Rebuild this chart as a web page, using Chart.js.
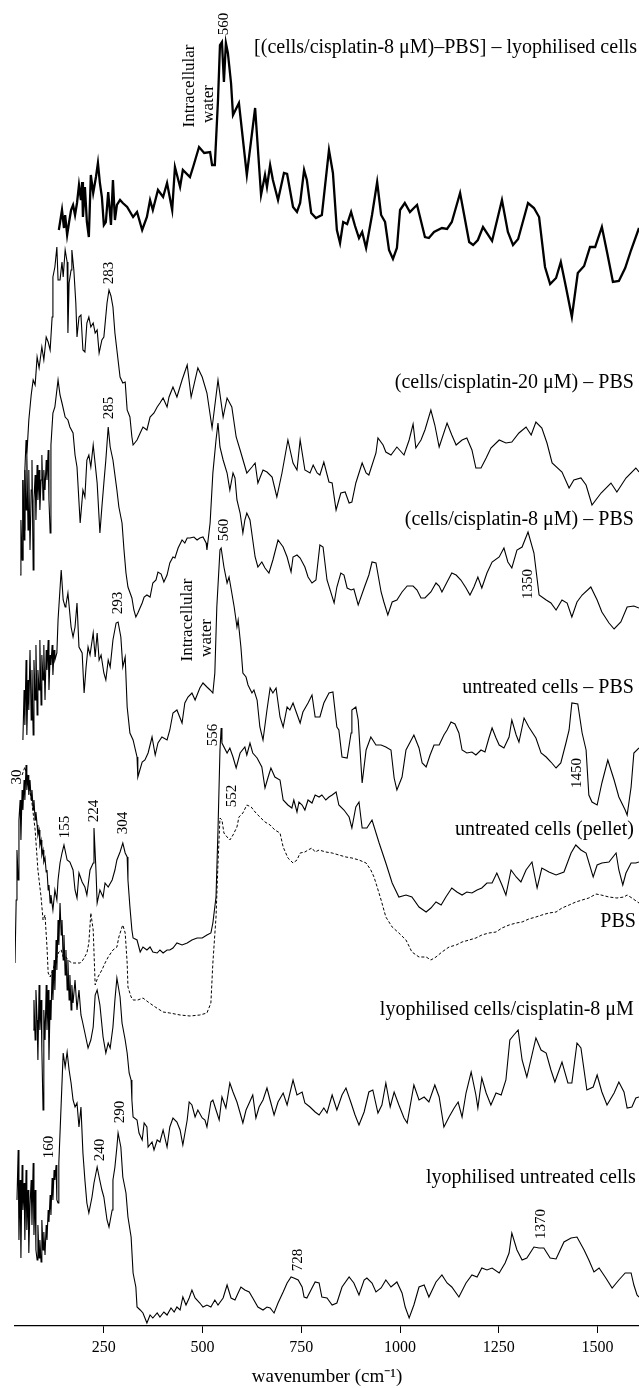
<!DOCTYPE html>
<html>
<head>
<meta charset="utf-8">
<title>Spectra</title>
<script src="https://cdn.jsdelivr.net/npm/chart.js@4.4.1/dist/chart.umd.min.js"></script>
<style>
  body { margin: 0; background: #fff; }
  canvas { display: block; }
</style>
</head>
<body>
<canvas id="spectra" width="639" height="1388"></canvas>
<script>
// wavenumber (cm-1), intensity (arbitrary, stacked)
const lyoDiff = [[136,1096],[144,1116],[149,1098],[152,1111],[157,1091],[162,1104],[167,1116],[172,1121],[177,1111],[182,1123],[187,1141],[192,1126],[195,1144],[197,1109],[202,1139],[207,1104],[212,1089],[217,1151],[223,1133],[230,1149],[235,1163],[240,1143],[245,1129],[250,1101],[255,1104],[261,1134],[268,1101],[273,1146],[278,1106],[283,1121],[291,1126],[298,1123],[309,1119],[324,1109],[334,1114],[347,1096],[359,1109],[367,1126],[374,1116],[387,1136],[400,1129],[410,1143],[423,1116],[430,1159],[443,1139],[450,1156],[468,1149],[476,1159],[491,1179],[504,1173],[519,1174],[524,1161],[531,1161],[539,1226],[544,1281],[549,1284],[554,1244],[559,1283],[564,1273],[572,1243],[577,1211],[592,1223],[612,1151],[633,1218],[648,1131],[658,1151],[663,1139],[671,1161],[678,1146],[691,1126],[706,1153],[714,1152],[729,1119],[739,1114],[747,1123],[757,1156],[764,1146],[775,1113],[787,1108],[802,1111],[820,1176],[830,1153],[840,1096],[848,1083],[856,1104],[866,1102],[876,1114],[886,1100],[896,1088],[904,1094],[914,1078],[929,1111],[942,1144],[952,1111],[962,1104],[972,1076],[982,1067],[992,1078],[1000,1116],[1012,1123],[1025,1114],[1035,1118],[1043,1121],[1063,1089],[1073,1088],[1086,1094],[1106,1098],[1119,1097],[1131,1104],[1152,1133],[1175,1084],[1185,1081],[1197,1086],[1210,1099],[1233,1085],[1258,1126],[1273,1094],[1286,1081],[1299,1087],[1324,1123],[1339,1118],[1352,1109],[1367,1059],[1380,1042],[1395,1048],[1407,1064],[1420,1039],[1435,1009],[1450,1053],[1466,1060],[1481,1079],[1494,1079],[1511,1099],[1524,1074],[1539,1044],[1554,1045],[1570,1058],[1585,1076],[1605,1098]];

const cis20 = [[38,751],[40,806],[43,766],[45,846],[48,796],[50,856],[53,886],[55,871],[60,906],[66,931],[71,946],[76,941],[81,969],[86,958],[93,979],[98,966],[104,989],[109,984],[114,976],[119,1009],[121,1049],[126,1059],[131,1079],[134,1046],[139,1046],[144,1064],[147,1049],[152,1076],[157,1064],[159,993],[162,1043],[167,1056],[169,1076],[174,1056],[179,1023],[182,989],[187,1009],[192,1011],[197,976],[202,974],[207,1003],[212,1009],[217,999],[223,1003],[228,993],[233,996],[238,973],[245,986],[250,989],[258,1023],[263,1036],[268,1030],[273,1019],[278,993],[283,976],[291,949],[298,943],[304,944],[309,916],[316,909],[321,889],[324,881],[334,886],[342,893],[349,899],[359,896],[367,909],[377,913],[385,919],[392,923],[400,928],[410,919],[415,929],[425,939],[435,929],[448,946],[461,961],[471,929],[488,958],[499,949],[511,933],[524,898],[539,946],[552,909],[562,928],[574,919],[585,889],[595,876],[612,853],[625,859],[633,863],[640,843],[653,856],[663,854],[676,849],[688,829],[701,853],[716,886],[729,863],[739,856],[747,886],[759,856],[772,853],[780,861],[790,853],[797,851],[807,864],[820,844],[828,843],[838,816],[850,833],[861,834],[871,823],[878,824],[888,843],[904,863],[914,853],[921,851],[939,873],[944,888],[957,881],[964,874],[977,871],[992,879],[1010,871],[1023,886],[1033,902],[1040,878],[1048,883],[1053,886],[1063,896],[1078,916],[1088,901],[1099,879],[1119,903],[1131,891],[1142,881],[1157,886],[1169,888],[1182,876],[1192,858],[1205,858],[1218,868],[1230,878],[1251,886],[1268,883],[1283,884],[1301,893],[1319,899],[1332,891],[1344,904],[1359,898],[1372,883],[1385,863],[1410,854],[1428,838],[1440,846],[1458,848],[1471,841],[1486,821],[1509,833],[1534,843],[1549,834],[1572,848],[1597,858],[1605,854]];

const cis8 = [[43,766],[45,846],[48,786],[50,856],[53,816],[55,871],[58,796],[60,856],[63,776],[66,836],[68,866],[71,756],[73,826],[76,851],[78,806],[81,861],[83,826],[86,856],[88,816],[91,846],[93,871],[96,826],[98,856],[101,836],[104,866],[106,846],[109,876],[111,826],[114,793],[116,881],[121,913],[126,919],[134,946],[139,931],[144,923],[152,909],[159,906],[164,899],[172,893],[177,871],[182,859],[190,803],[197,836],[202,829],[207,866],[212,871],[217,859],[223,881],[233,843],[240,793],[245,819],[250,843],[255,866],[261,899],[266,879],[273,866],[283,836],[288,819],[296,803],[301,776],[306,753],[311,739],[321,728],[326,716],[331,709],[336,713],[347,723],[352,729],[359,731],[367,729],[374,743],[382,746],[387,754],[395,752],[402,744],[410,751],[417,763],[425,769],[430,768],[438,778],[448,786],[455,783],[461,788],[468,788],[478,789],[486,786],[493,788],[501,789],[509,783],[511,776],[519,803],[526,853],[534,886],[539,903],[544,879],[552,866],[562,853],[569,836],[577,853],[582,848],[587,826],[595,813],[602,793],[607,806],[612,813],[620,806],[627,786],[633,769],[640,759],[650,764],[658,758],[668,753],[678,766],[691,786],[704,779],[714,769],[724,754],[729,769],[739,771],[747,768],[759,759],[767,749],[777,743],[787,746],[797,781],[805,779],[815,746],[833,723],[840,739],[850,753],[858,751],[866,738],[876,736],[883,737],[894,721],[909,738],[921,751],[929,764],[939,763],[952,734],[959,724],[969,711],[980,724],[992,726],[1005,734],[1018,740],[1033,740],[1043,736],[1053,728],[1063,728],[1078,734],[1091,743],[1099,740],[1106,734],[1119,744],[1131,753],[1142,751],[1154,746],[1167,738],[1177,731],[1187,739],[1197,749],[1207,738],[1220,753],[1233,764],[1251,769],[1263,778],[1273,764],[1283,758],[1296,776],[1309,779],[1324,794],[1339,773],[1352,731],[1370,726],[1382,723],[1395,716],[1410,726],[1423,723],[1435,709],[1448,724],[1461,731],[1483,739],[1499,726],[1511,714],[1529,703],[1542,697],[1559,704],[1575,719],[1592,720],[1605,718]];

const untreatedPbs = [[45,586],[48,636],[50,601],[53,666],[55,591],[58,646],[60,616],[63,676],[66,606],[68,656],[71,591],[73,666],[76,626],[78,681],[81,611],[83,656],[86,636],[88,686],[91,621],[93,671],[96,646],[98,681],[101,626],[104,676],[106,656],[109,686],[111,636],[114,671],[116,661],[119,681],[121,651],[124,676],[126,666],[131,673],[134,706],[142,756],[147,726],[152,719],[154,721],[159,733],[167,699],[172,689],[177,699],[182,723],[187,679],[195,673],[200,633],[205,659],[210,679],[215,671],[223,693],[228,669],[233,693],[238,666],[243,671],[250,653],[255,646],[261,666],[266,659],[273,686],[281,703],[286,704],[293,689],[298,659],[304,669],[309,619],[316,593],[324,586],[334,569],[336,549],[347,564],[354,566],[362,573],[372,589],[380,571],[387,583],[397,589],[410,586],[417,596],[425,613],[435,616],[448,603],[455,623],[463,629],[473,633],[481,626],[493,638],[501,643],[511,639],[519,636],[526,633],[531,653],[536,719],[544,776],[547,778],[554,759],[562,743],[567,749],[574,733],[580,719],[587,699],[590,706],[597,679],[602,653],[610,649],[615,641],[625,633],[630,636],[638,626],[645,599],[653,586],[663,616],[671,638],[678,633],[686,638],[696,609],[704,599],[714,619],[721,616],[729,623],[737,614],[747,603],[754,614],[767,623],[777,631],[785,609],[797,609],[807,623],[820,633],[830,634],[840,599],[845,596],[853,569],[866,568],[876,593],[878,616],[888,619],[894,606],[904,543],[914,576],[926,589],[939,581],[952,581],[964,579],[977,576],[985,548],[992,536],[1005,549],[1015,576],[1035,591],[1048,578],[1056,563],[1066,559],[1076,571],[1086,581],[1099,581],[1111,591],[1119,596],[1129,604],[1139,602],[1149,593],[1157,576],[1169,573],[1182,574],[1192,571],[1205,576],[1215,574],[1225,588],[1233,598],[1243,588],[1251,581],[1263,578],[1276,589],[1283,606],[1294,591],[1301,584],[1314,608],[1326,599],[1344,588],[1357,573],[1370,569],[1382,564],[1395,558],[1407,563],[1420,583],[1428,596],[1435,623],[1450,622],[1461,593],[1471,576],[1478,531],[1486,524],[1499,521],[1511,543],[1526,566],[1542,546],[1554,529],[1570,516],[1575,511],[1585,539],[1592,573],[1605,578]];

const pellet = [[25,363],[28,426],[30,476],[33,446],[35,506],[38,526],[40,486],[43,536],[45,516],[48,546],[50,526],[53,561],[55,536],[58,551],[60,531],[63,546],[66,526],[68,536],[71,516],[73,526],[76,506],[78,514],[81,501],[83,491],[86,496],[88,481],[91,486],[93,471],[96,476],[98,464],[101,468],[104,454],[106,456],[109,436],[111,441],[114,423],[116,431],[121,416],[126,436],[131,426],[134,446],[139,463],[144,473],[149,481],[157,466],[164,464],[172,456],[177,436],[182,428],[187,453],[195,444],[202,439],[207,431],[215,456],[223,463],[225,498],[230,456],[233,423],[240,436],[248,429],[253,443],[261,439],[271,446],[278,456],[283,466],[291,474],[298,483],[304,473],[309,469],[311,446],[316,419],[321,396],[324,388],[334,386],[342,374],[349,379],[359,376],[367,379],[374,374],[385,373],[392,376],[400,373],[410,376],[417,376],[425,378],[435,383],[448,381],[461,383],[473,386],[486,388],[499,388],[511,391],[521,393],[526,403],[534,429],[539,496],[544,576],[547,598],[549,583],[562,573],[569,578],[577,569],[585,558],[595,573],[607,579],[612,571],[620,583],[627,573],[638,568],[650,559],[658,538],[666,549],[673,558],[683,549],[696,546],[704,526],[716,521],[726,518],[731,526],[739,514],[744,524],[752,521],[759,516],[767,526],[777,523],[785,531],[795,529],[802,531],[812,526],[820,529],[828,531],[838,534],[845,521],[858,516],[871,509],[878,498],[888,519],[896,524],[904,498],[916,498],[929,506],[947,483],[964,463],[980,443],[997,429],[1015,431],[1030,429],[1048,419],[1066,414],[1078,418],[1091,424],[1104,421],[1116,429],[1131,438],[1144,434],[1157,431],[1169,434],[1182,433],[1195,436],[1207,438],[1220,443],[1233,443],[1245,453],[1258,441],[1268,431],[1281,456],[1294,449],[1306,444],[1319,456],[1334,464],[1347,438],[1359,458],[1377,454],[1395,451],[1415,454],[1433,473],[1445,481],[1458,476],[1471,473],[1489,449],[1499,461],[1511,463],[1529,464],[1547,473],[1554,456],[1564,441],[1572,453],[1585,463],[1597,463],[1605,464]];

const pbs = [[43,551],[50,559],[58,546],[68,523],[76,496],[83,456],[91,429],[96,406],[101,411],[106,379],[109,353],[114,349],[121,356],[126,363],[131,369],[136,374],[142,376],[147,369],[154,369],[159,366],[169,363],[177,363],[190,363],[197,366],[207,373],[212,383],[217,413],[223,396],[228,341],[235,349],[245,356],[253,363],[261,369],[273,376],[283,379],[288,389],[296,399],[298,401],[304,393],[309,363],[311,339],[319,329],[324,326],[336,326],[349,328],[362,324],[380,319],[400,314],[417,313],[443,311],[468,310],[493,311],[511,313],[521,323],[526,363],[534,409],[539,463],[544,508],[549,506],[554,493],[562,489],[569,486],[577,491],[587,499],[592,509],[602,513],[612,521],[623,519],[633,514],[645,509],[658,504],[671,501],[683,496],[696,493],[704,479],[716,468],[729,463],[739,466],[747,473],[759,474],[767,476],[777,478],[785,474],[795,476],[812,474],[828,473],[845,471],[863,469],[878,468],[896,466],[914,463],[926,456],[934,449],[942,439],[952,426],[964,409],[980,399],[997,393],[1015,386],[1030,374],[1048,369],[1066,369],[1078,366],[1091,369],[1106,374],[1124,379],[1142,381],[1157,384],[1175,386],[1192,388],[1207,391],[1225,393],[1243,394],[1258,398],[1276,401],[1294,403],[1309,404],[1326,407],[1344,409],[1359,411],[1377,413],[1395,414],[1410,418],[1428,421],[1445,424],[1461,426],[1478,428],[1496,432],[1509,431],[1529,429],[1549,428],[1567,429],[1575,431],[1587,428],[1605,423]];

const lyoCis8 = [[71,296],[73,326],[76,286],[78,336],[81,306],[83,266],[86,341],[88,296],[91,326],[93,276],[96,216],[98,316],[101,286],[104,341],[106,296],[109,336],[111,266],[114,326],[116,306],[119,356],[121,326],[124,366],[126,336],[129,386],[131,356],[134,406],[136,381],[139,423],[142,391],[144,406],[147,366],[149,391],[152,351],[154,376],[157,336],[159,366],[162,326],[164,351],[167,316],[169,341],[172,323],[177,346],[182,316],[187,336],[192,311],[195,306],[202,293],[210,278],[217,286],[223,299],[228,331],[233,336],[240,321],[248,289],[255,273],[261,283],[266,278],[273,299],[278,326],[283,348],[291,329],[296,303],[304,286],[309,273],[314,253],[319,246],[321,226],[324,209],[334,206],[339,193],[347,186],[352,203],[359,199],[362,179],[372,184],[377,176],[385,186],[392,184],[400,196],[410,179],[417,199],[425,208],[435,204],[443,196],[450,181],[461,206],[466,224],[473,221],[481,209],[488,216],[499,208],[506,206],[511,199],[521,224],[526,226],[534,216],[542,206],[549,229],[559,218],[569,243],[577,234],[587,224],[595,213],[602,203],[610,216],[618,223],[627,231],[635,208],[643,219],[653,226],[663,238],[673,223],[681,211],[691,224],[704,233],[714,221],[729,246],[739,231],[752,234],[759,223],[772,219],[785,214],[795,211],[807,218],[815,213],[828,231],[840,216],[853,231],[863,238],[876,223],[886,211],[896,201],[909,214],[921,234],[931,236],[944,213],[954,221],[964,243],[975,219],[985,234],[997,221],[1010,208],[1018,203],[1035,241],[1048,226],[1061,229],[1073,224],[1088,241],[1099,229],[1111,199],[1124,209],[1137,218],[1147,224],[1157,209],[1167,233],[1180,254],[1192,231],[1197,218],[1207,248],[1218,233],[1230,221],[1243,233],[1256,231],[1268,246],[1278,286],[1288,291],[1299,296],[1309,266],[1321,249],[1344,288],[1357,276],[1370,273],[1382,256],[1392,244],[1410,264],[1425,243],[1435,243],[1448,283],[1458,278],[1473,236],[1489,239],[1499,251],[1511,234],[1524,221],[1542,233],[1554,244],[1567,234],[1575,218],[1587,219],[1597,228],[1605,229]];

const lyoUntreated = [[30,126],[33,176],[35,86],[38,146],[40,68],[43,161],[45,116],[48,143],[50,86],[53,156],[55,96],[58,136],[60,73],[63,121],[66,146],[68,101],[71,163],[73,91],[76,136],[78,76],[81,66],[83,101],[86,68],[88,86],[91,64],[93,106],[96,76],[98,94],[101,71],[104,101],[106,86],[109,116],[111,104],[114,131],[116,111],[119,148],[121,126],[124,156],[126,146],[129,161],[131,126],[134,123],[136,163],[142,223],[147,273],[152,259],[157,274],[162,256],[167,243],[172,226],[177,219],[182,223],[187,199],[192,219],[197,173],[202,146],[207,123],[212,113],[220,129],[225,143],[233,159],[238,149],[245,136],[250,129],[258,106],[263,99],[271,116],[273,146],[278,159],[283,179],[286,193],[293,179],[298,149],[306,133],[311,109],[319,89],[324,53],[331,39],[334,19],[342,16],[349,13],[359,3],[367,11],[374,8],[385,13],[392,9],[402,14],[410,11],[420,18],[428,14],[435,19],[443,16],[450,29],[458,21],[466,28],[473,36],[481,28],[493,23],[501,19],[511,21],[521,19],[531,26],[539,21],[552,28],[562,41],[572,28],[582,26],[590,33],[597,39],[607,36],[618,34],[627,28],[640,19],[653,16],[663,19],[671,18],[681,13],[691,23],[704,34],[714,43],[724,49],[731,48],[742,46],[752,39],[757,29],[764,28],[777,38],[785,44],[795,43],[802,29],[815,28],[828,21],[840,23],[853,39],[871,49],[883,43],[896,31],[909,46],[916,48],[929,43],[939,34],[952,38],[964,46],[977,39],[992,44],[1005,33],[1013,19],[1023,8],[1035,21],[1048,39],[1061,41],[1073,29],[1091,44],[1106,51],[1119,43],[1131,39],[1149,29],[1167,43],[1182,51],[1195,49],[1207,58],[1220,56],[1233,58],[1251,53],[1266,63],[1276,73],[1283,93],[1296,76],[1309,66],[1321,68],[1339,79],[1352,78],[1364,78],[1380,68],[1395,67],[1415,84],[1433,88],[1448,89],[1466,76],[1478,66],[1491,54],[1504,58],[1521,48],[1537,38],[1554,46],[1570,53],[1585,53],[1592,41],[1600,31],[1605,29]];

const xTicks = [250, 500, 750, 1000, 1250, 1500];

// curve names, right aligned [text, wavenumber, intensity]
const seriesNames = [
    ['[(cells/cisplatin-8 \u03bcM)\u2013PBS] \u2013 lyophilised cells', 1600, 1278],
    ['(cells/cisplatin-20 \u03bcM) \u2013 PBS', 1592, 943],
    ['(cells/cisplatin-8 \u03bcM) \u2013 PBS', 1592, 806],
    ['untreated cells \u2013 PBS', 1592, 638],
    ['untreated cells (pellet)', 1592, 496],
    ['PBS', 1597, 404],
    ['lyophilised cells/cisplatin-8 \u03bcM', 1592, 316],
    ['lyophilised untreated cells', 1597, 148]
];

// band positions written vertically [text, wavenumber, intensity]
const peakLabels = [
    ['560', 554, 1302], ['283', 263, 1053], ['285', 263, 918], ['560', 554, 796],
    ['293', 286, 723], ['1350', 1324, 742], ['1450', 1448, 553], ['556', 526, 591],
    ['552', 574, 530], ['155', 152, 499], ['224', 225, 515], ['304', 298, 503],
    ['30', 30, 549], ['160', 111, 179], ['240', 240, 176], ['290', 291, 214],
    ['728', 742, 66], ['1370', 1357, 102]
];

const waterLabels = [
    ['Intracellular', 468, 1240], ['water', 514, 1222],
    ['Intracellular', 463, 706], ['water', 511, 688]
];

function toXY(arr) {
    return arr.map(p => ({x: p[0], y: p[1]}));
}

const serif = '"Liberation Serif", "Times New Roman", serif';

const annotate = {
    id: 'annotate',
    afterDatasetsDraw(chart) {
        const ctx = chart.ctx;
        const xs = chart.scales.x, ys = chart.scales.y;
        ctx.save();
        ctx.fillStyle = '#000';
        ctx.textBaseline = 'middle';

        ctx.font = '20px ' + serif;
        ctx.textAlign = 'right';
        seriesNames.forEach(s => {
            ctx.fillText(s[0], xs.getPixelForValue(s[1]), ys.getPixelForValue(s[2]));
        });

        ctx.textAlign = 'center';
        function vertical(list, font) {
            ctx.font = font;
            list.forEach(s => {
                ctx.save();
                ctx.translate(xs.getPixelForValue(s[1]), ys.getPixelForValue(s[2]));
                ctx.rotate(-Math.PI / 2);
                ctx.fillText(s[0], 0, 0);
                ctx.restore();
            });
        }
        vertical(peakLabels, '15px ' + serif);
        vertical(waterLabels, '17px ' + serif);
        ctx.restore();
    }
};

const thin = {borderColor: '#000', borderWidth: 1.1, pointRadius: 0, tension: 0, fill: false};

new Chart(document.getElementById('spectra'), {
    type: 'line',
    data: {
        datasets: [
            Object.assign({label: 'lyophilised diff', data: toXY(lyoDiff)}, thin, {borderWidth: 2.3}),
            Object.assign({label: 'cisplatin 20', data: toXY(cis20)}, thin),
            Object.assign({label: 'cisplatin 8', data: toXY(cis8)}, thin),
            Object.assign({label: 'untreated - PBS', data: toXY(untreatedPbs)}, thin),
            Object.assign({label: 'pellet', data: toXY(pellet)}, thin),
            Object.assign({label: 'PBS', data: toXY(pbs)}, thin, {borderWidth: 1, borderDash: [3, 2]}),
            Object.assign({label: 'lyophilised cisplatin', data: toXY(lyoCis8)}, thin),
            Object.assign({label: 'lyophilised untreated', data: toXY(lyoUntreated)}, thin)
        ]
    },
    options: {
        responsive: false,
        animation: false,
        devicePixelRatio: 1,
        layout: {padding: {left: 15, right: 0, top: 0, bottom: 0}},
        plugins: {legend: {display: false}, tooltip: {enabled: false}},
        scales: {
            x: {
                type: 'linear',
                min: 25,
                max: 1605,
                afterBuildTicks: (scale) => { scale.ticks = xTicks.map(v => ({value: v})); },
                border: {display: true, color: '#000', width: 1.3},
                grid: {display: true, drawOnChartArea: false, drawTicks: true, tickLength: 7, color: '#000', lineWidth: 1},
                ticks: {color: '#000', padding: 5, maxRotation: 0, font: {family: serif, size: 16},
                        callback: (v) => String(v)},
                title: {display: true, text: 'wavenumber (cm\u207b\u00b9)', color: '#000', padding: {top: 3, bottom: 0}, font: {family: serif, size: 19}}
            },
            y: {
                type: 'linear',
                display: false,
                min: 0,
                max: 1326
            }
        }
    },
    plugins: [annotate]
});
</script>
</body>
</html>
